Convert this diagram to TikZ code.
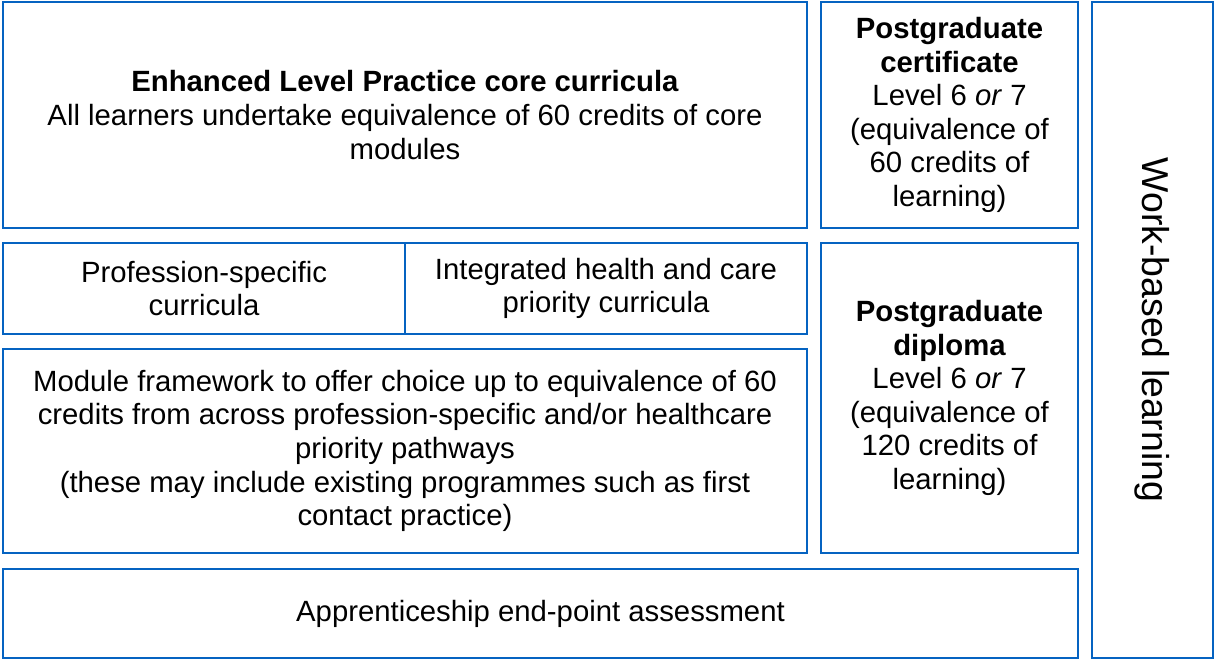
\documentclass[tikz,border=0pt]{standalone}
\usepackage{fontspec}
\setmainfont{Liberation Sans}
\usetikzlibrary{positioning}
\definecolor{boxblue}{HTML}{0563C1}
\tikzset{blk/.style={draw=boxblue,line width=2pt,align=center,inner sep=0pt,
  font=\fontsize{29.3}{33.6}\selectfont}}

\begin{document}
\begin{tikzpicture}[x=1pt,y=-1pt]
\useasboundingbox (0,0) rectangle (1216,661);
\node[blk,minimum width=804pt,minimum height=226pt] (core) at (405,115)
  {\textbf{Enhanced Level Practice core curricula}\\All learners undertake equivalence of 60 credits of core\\modules};
\node[blk,minimum width=257pt,minimum height=226pt] (pgcert) at (949.5,115)
  {\textbf{Postgraduate}\\\textbf{certificate}\\Level 6 \textit{or} 7\\(equivalence of\\60 credits of\\learning)};
\node[blk,minimum width=402pt,minimum height=91pt] (prof) at (204,288.5)
  {Profession-specific\\curricula};
\node[blk,minimum width=402pt,minimum height=91pt] (integ) at (606,288.5)
  {Integrated health and care\\priority curricula};
\node[blk,minimum width=804pt,minimum height=204pt] (modfw) at (405,451)
  {Module framework to offer choice up to equivalence of 60\\credits from across profession-specific and/or healthcare\\priority pathways\\(these may include existing programmes such as first\\contact practice)};
\node[blk,minimum width=257pt,minimum height=310pt] (pgdip) at (949.5,398)
  {\textbf{Postgraduate}\\\textbf{diploma}\\Level 6 \textit{or} 7\\(equivalence of\\120 credits of\\learning)};
\node[blk,minimum width=1075pt,minimum height=89pt] (appr) at (540.5,613.5)
  {Apprenticeship end-point assessment};
\node[blk,minimum width=121pt,minimum height=656pt] (wbl) at (1152.5,330) {};
\node[rotate=-90,font=\fontsize{37.4}{40}\selectfont] (wbltext) at (wbl.center) {Work-based learning};
\end{tikzpicture}
\end{document}
